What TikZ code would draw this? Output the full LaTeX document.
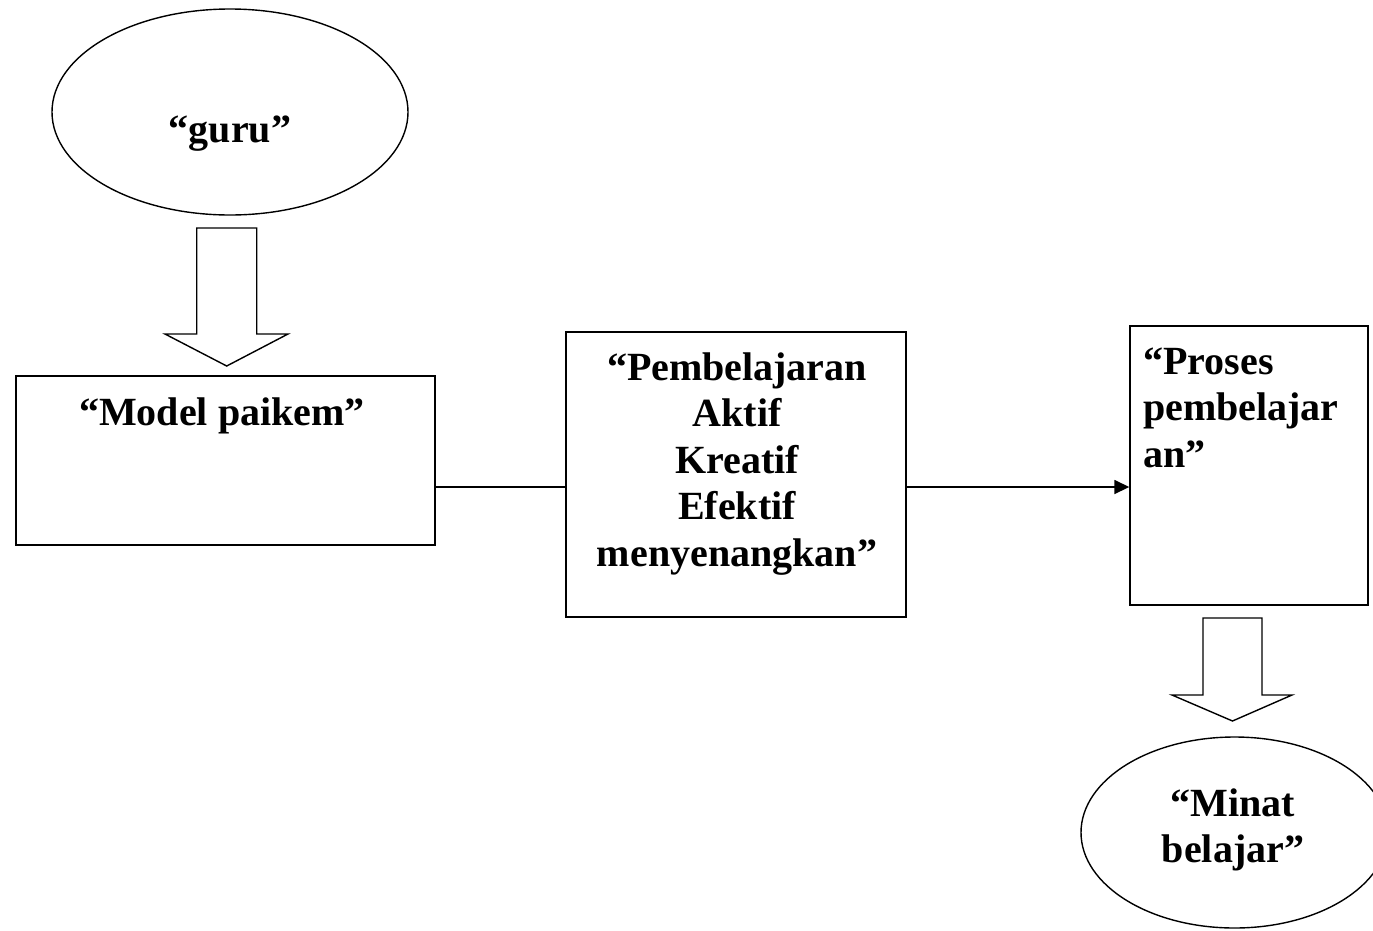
\documentclass[tikz,border=0pt]{standalone}
\usepackage{fontspec}
\setmainfont{Liberation Serif}
\usetikzlibrary{shapes.geometric,arrows.meta}
\begin{document}
\begin{tikzpicture}[x=1pt,y=-1pt,
  shapeline/.style={draw=black,line width=1.4pt},
  ovalbox/.style={shapeline,ellipse,inner sep=0pt},
  rectbox/.style={shapeline,rectangle,inner sep=0pt},
  txt/.style={font=\fontsize{40}{46.5}\selectfont\bfseries,inner sep=0pt},
  conn/.style={line width=1.6pt},
  blockarrow/.style={draw=black,line width=1.4pt,fill=white,line join=miter}]
\useasboundingbox (0,0) rectangle (1373,930);
\clip (0,0) rectangle (1373,930);
% shapes
\node[ovalbox,minimum width=356pt,minimum height=206pt] (guru) at (230,112) {};
\node[rectbox,minimum width=419pt,minimum height=169pt] (model) at (225.5,460.5) {};
\node[rectbox,minimum width=340pt,minimum height=285pt] (pem) at (736,474.5) {};
\node[rectbox,minimum width=238pt,minimum height=279pt] (proses) at (1249,465.5) {};
\node[ovalbox,minimum width=307pt,minimum height=191pt] (minat) at (1234.5,832.5) {};
% texts
\node[txt,anchor=base] (tguru) at (230,142) {“guru”};
\node[txt,anchor=base] (tmodel) at (222,425) {“Model paikem”};
\node[txt,anchor=north,align=center] (tpem) at (737,352.5) {“Pembelajaran\\Aktif\\Kreatif\\Efektif\\menyenangkan”};
\node[txt,anchor=north west,align=left] (tproses) at (1143,347.5) {“Proses\\pembelajar\\an”};
\node[txt,anchor=north,align=center] (tminat) at (1233,788.5) {“Minat\\belajar”};
% block arrows
\draw[blockarrow] (196.7,228) -- (256.7,228) -- (256.7,334) -- (288,334) -- (226.7,366) -- (165,334) -- (196.7,334) -- cycle;
\draw[blockarrow] (1203,618) -- (1262,618) -- (1262,695) -- (1292,695) -- (1232.5,721) -- (1172,695) -- (1203,695) -- cycle;
% connectors
\coordinate (ly) at (0,487);
\draw[conn] (model.east |- ly) -- (pem.west |- ly);
\draw[conn,-{Triangle[length=15pt,width=14pt]}] (pem.east |- ly) -- (proses.west |- ly);
\end{tikzpicture}
\end{document}
